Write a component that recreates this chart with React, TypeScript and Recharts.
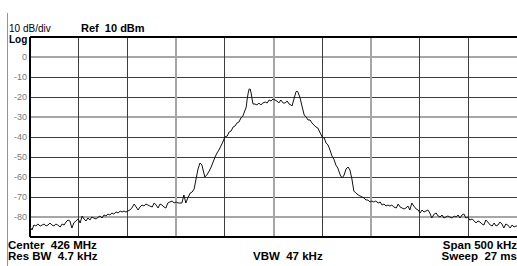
import React from "react";
import { LineChart, Line, XAxis, YAxis, ReferenceLine } from "recharts";

// Frequency offset from center (kHz) and measured level (dBm)
const FREQ_KHZ: number[] = [
  -250, -248, -246, -244, -242, -239.5, -237.5, -235.5, -233.5, -231.5,
  -229.5, -227.5, -225.5, -223.5, -221.5, -219, -217, -215, -213, -211,
  -209, -207, -205, -203, -200.5, -198.5, -196.5, -194.5, -192.5, -190.5,
  -188.5, -186.5, -184.5, -182, -180, -178, -176, -174, -172, -170,
  -168, -166, -164, -161.5, -159.5, -157.5, -155.5, -153.5, -151.5, -149.5,
  -147.5, -145.5, -143, -141, -139, -137, -135, -133, -131, -129,
  -127, -124.5, -122.5, -120.5, -118.5, -116.5, -114.5, -112.5, -110.5, -108.5,
  -106.5, -104, -102, -100, -98, -96, -94, -92, -90, -88,
  -85.5, -83.5, -81.5, -79.5, -77.5, -75.5, -73.5, -72.5, -70.5, -68.5,
  -66, -64, -62, -60, -58, -56, -54, -52, -50, -47.5,
  -45.5, -43.5, -41.5, -39.5, -37.5, -35.5, -33.5, -31.5, -29.5, -28,
  -27, -26, -25, -24, -23, -22, -21, -19, -17, -15,
  -13, -11, -8.5, -6.5, -4.5, -2.5, -0.5, 1.5, 3.5, 5.5,
  7.5, 10, 12, 14, 16, 18, 19, 21, 23, 24,
  25, 27, 29.5, 31.5, 33.5, 35.5, 37.5, 39.5, 41.5, 43.5,
  45.5, 47.5, 50, 52, 54, 56, 58, 60, 62, 64,
  66, 68.5, 70.5, 72.5, 74.5, 76.5, 78.5, 80.5, 82.5, 84.5,
  87, 89, 91, 93, 95, 97, 99, 101, 103, 105,
  107.5, 109.5, 111.5, 113.5, 115.5, 117.5, 119.5, 121.5, 123.5, 126,
  128, 130, 132, 134, 136, 138, 140, 142, 144, 146.5,
  148.5, 150.5, 152.5, 154.5, 156.5, 158.5, 160.5, 162.5, 165, 167,
  169, 171, 173, 175, 177, 179, 181, 183.5, 185.5, 187.5,
  189.5, 191.5, 193.5, 195.5, 197.5, 199.5, 201.5, 204, 206, 208,
  210, 212, 214, 216, 218, 220, 222.5, 224.5, 226.5, 228.5,
  230.5, 232.5, 234.5, 236.5, 238.5, 240.5, 243, 245, 247, 249,
  250,
];

const LEVEL_DBM: number[] = [
  -85, -86.5, -84, -84.5, -83.5, -84.5, -84, -83.5, -84.5, -84,
  -83, -84, -84.5, -83.5, -84, -85, -83.5, -84, -82.5, -81.5,
  -82, -85.5, -83, -82, -81, -83, -79.5, -81, -82, -80.5,
  -81.5, -80, -80.5, -81, -80, -79.5, -80.5, -79, -79.5, -78.5,
  -79, -78, -78.5, -77.5, -78, -77, -77.5, -77, -77.5, -77,
  -76.5, -75.5, -73.5, -75, -76.5, -75, -74, -74.5, -73.5, -74,
  -74.5, -75, -73, -74, -75.5, -73.5, -74, -75, -75.5, -73,
  -72.5, -72, -73, -72.5, -73, -73, -73, -69, -73, -70.5,
  -68, -67.5, -66, -61, -56, -53, -54, -56, -60, -59,
  -57, -55, -52.5, -50, -48, -46.5, -44.5, -42.5, -40, -39.5,
  -37.5, -37, -35, -34.5, -33, -32.5, -30.5, -29.5, -27, -25,
  -21, -18, -16, -16, -18, -21, -23.5, -23.5, -24, -23,
  -24, -23, -22.5, -23, -21.5, -22, -21, -21.5, -22, -23,
  -21.5, -23, -23, -22, -23.5, -24, -24.5, -21, -17.5, -17,
  -17.5, -20, -25, -29, -30, -31.5, -31.5, -33, -34, -35,
  -35.5, -37.5, -40, -40.5, -43, -44, -46.5, -49.5, -51, -54,
  -55.5, -59, -60.5, -59, -56, -55, -56.5, -61, -67, -68,
  -69, -69.5, -70, -70.5, -71.5, -71.5, -72.5, -72, -72.5, -72,
  -73, -72.5, -74, -73.5, -74.5, -74, -74.5, -74, -75, -75.5,
  -73.5, -75, -75.5, -76, -75.5, -74.5, -76.5, -73, -74.5, -76,
  -76.5, -78, -76.5, -77.5, -77, -76.5, -78, -80.5, -78.5, -78,
  -79.5, -80, -79, -80.5, -80, -79.5, -80, -80.5, -79.5, -80,
  -79, -80.5, -79, -78.5, -80.5, -80, -81.5, -81, -82, -83,
  -82, -82.5, -83.5, -84, -81.5, -82.5, -84, -84.5, -83, -84.5,
  -84, -82.5, -83.5, -85.5, -83.5, -84, -85.5, -84, -85, -84.5,
  -84.5,
];

const Y_TICKS: number[] = [0, -10, -20, -30, -40, -50, -60, -70, -80];
const X_GRID_KHZ: number[] = [-200, -150, -100, -50, 0, 50, 100, 150, 200];

const REF_LEVEL = 10;
const BOTTOM_LEVEL = -90;
const SPAN_HALF = 250;

const data = FREQ_KHZ.map((f, i) => ({ f, dbm: LEVEL_DBM[i] }));

// styling: which grid lines render as light (wider) lines
const LIGHT_H = new Set([0, -30, -80]);
const LIGHT_V = new Set([-100, 0, 100]);

const font = "'Liberation Sans', Arial, sans-serif";

const txt = (style: React.CSSProperties): React.CSSProperties => ({
  position: "absolute",
  fontFamily: font,
  color: "#000",
  whiteSpace: "pre",
  lineHeight: 1,
  ...style,
});

export default function App() {
  return (
    <div style={{ position: "absolute", left: 0, top: 0, width: 517, height: 266, background: "#fff", overflow: "hidden" }}>
      <div style={{ position: "absolute", left: 7, top: 13, width: 1, height: 253, background: "#3ad33a" }} />
      <LineChart
        width={517}
        height={266}
        data={data}
        margin={{ top: 37, right: 0, bottom: 29, left: 0 }}
      >
        <XAxis dataKey="f" type="number" domain={[-SPAN_HALF, SPAN_HALF]} hide allowDataOverflow />
        <YAxis
          type="number"
          domain={[BOTTOM_LEVEL, REF_LEVEL]}
          ticks={Y_TICKS}
          width={30}
          tickLine={false}
          axisLine={false}
          tickSize={0}
          tickMargin={3}
          interval={0}
          tick={{ fill: "#7a7a7a", fontSize: 9, fontFamily: font }}
          allowDataOverflow
        />
        {Y_TICKS.map((v) => (
          <ReferenceLine
            key={"h" + v}
            y={v}
            stroke={LIGHT_H.has(v) ? "#a6a6a6" : "#3c3c3c"}
            strokeWidth={LIGHT_H.has(v) ? 2 : 1}
            shapeRendering="crispEdges"
          />
        ))}
        {X_GRID_KHZ.map((v) => (
          <ReferenceLine
            key={"v" + v}
            x={v}
            stroke={LIGHT_V.has(v) ? "#a6a6a6" : "#3c3c3c"}
            strokeWidth={LIGHT_V.has(v) ? 2 : 1}
            shapeRendering="crispEdges"
          />
        ))}
        <ReferenceLine y={REF_LEVEL} stroke="#000" strokeWidth={2} shapeRendering="crispEdges" />
        <ReferenceLine y={BOTTOM_LEVEL} stroke="#000" strokeWidth={2} shapeRendering="crispEdges" />
        <ReferenceLine x={-SPAN_HALF} stroke="#000" strokeWidth={2} shapeRendering="crispEdges" />
        <Line
          type="linear"
          dataKey="dbm"
          stroke="#111"
          strokeWidth={1}
          dot={false}
          isAnimationActive={false}
        />
      </LineChart>
      <div style={txt({ left: 9, top: 24, fontSize: 10 })}>10 dB/div</div>
      <div style={txt({ left: 81, top: 23, fontSize: 11, fontWeight: "bold" })}>Ref  10 dBm</div>
      <div style={txt({ left: 9, top: 35, fontSize: 10, fontWeight: "bold" })}>Log</div>
      <div style={txt({ left: 8, top: 240, fontSize: 11.5, fontWeight: "bold" })}>Center  426 MHz</div>
      <div style={txt({ left: 8, top: 251, fontSize: 11.5, fontWeight: "bold" })}>Res BW  4.7 kHz</div>
      <div style={txt({ left: 253, top: 251, fontSize: 11.5, fontWeight: "bold" })}>VBW  47 kHz</div>
      <div style={txt({ right: 0, top: 240, fontSize: 11.5, fontWeight: "bold" })}>Span 500 kHz</div>
      <div style={txt({ right: 0, top: 251, fontSize: 11.5, fontWeight: "bold" })}>Sweep  27 ms</div>
    </div>
  );
}
